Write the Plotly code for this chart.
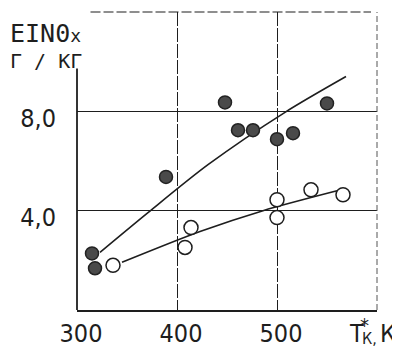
import plotly.graph_objects as go

# Data
filled_x = [315, 318, 389, 448, 461, 476, 500, 516, 550]
filled_y = [2.28, 1.68, 5.36, 8.36, 7.24, 7.24, 6.88, 7.12, 8.32]
open_x = [336, 408, 414, 500, 500, 534, 566]
open_y = [1.80, 2.52, 3.32, 4.44, 3.72, 4.84, 4.64]
fit_filled_x = [323, 371, 431, 508, 569]
fit_filled_y = [2.32, 3.92, 5.85, 7.96, 9.40]
fit_open_x = [345, 423, 486, 560]
fit_open_y = [1.92, 3.16, 4.00, 4.80]
x_ticks = [300, 400, 500]
x_ticktext = ["300", "400", "500"]
y_ticks = [4, 8]
y_ticktext = ["4,0", "8,0"]

FONT = "Liberation Sans Narrow, DejaVu Sans Condensed, Roboto, sans-serif"
MONO = "DejaVu Sans Mono, Liberation Mono, monospace"
INK = "#1e1e1e"

fig = go.Figure()
fig.add_trace(go.Scatter(x=fit_filled_x, y=fit_filled_y, mode="lines",
                         line=dict(color=INK, width=1.6, shape="spline", smoothing=0.8),
                         hoverinfo="skip", showlegend=False))
fig.add_trace(go.Scatter(x=fit_open_x, y=fit_open_y, mode="lines",
                         line=dict(color=INK, width=1.6, shape="spline", smoothing=0.8),
                         hoverinfo="skip", showlegend=False))
fig.add_trace(go.Scatter(x=filled_x, y=filled_y, mode="markers",
                         marker=dict(size=13, color="#4a4a4a", line=dict(color="#222", width=1.5)),
                         showlegend=False))
fig.add_trace(go.Scatter(x=open_x, y=open_y, mode="markers",
                         marker=dict(size=14, color="white", line=dict(color=INK, width=1.5)),
                         showlegend=False))

# the page adds an 8px body margin, so the figure is 8px smaller each way
fig.update_layout(
    width=392, height=340,
    margin=dict(l=69, r=23, t=4, b=38, autoexpand=False),
    paper_bgcolor="white", plot_bgcolor="white",
    font=dict(family=FONT, color=INK),
    xaxis=dict(range=[300, 600], tickvals=x_ticks, ticktext=x_ticktext,
               showgrid=True, gridcolor=INK, gridwidth=1, griddash="14px,2px",
               zeroline=False, showline=True, linecolor=INK, linewidth=1.8,
               ticks="", tickfont=dict(size=25, family=FONT, color=INK),
               ticklabelstandoff=0, ticklabelshift=4, automargin=False),
    yaxis=dict(range=[0, 12], tickvals=y_ticks, ticktext=y_ticktext,
               showgrid=True, gridcolor=INK, gridwidth=1.2,
               zeroline=False, showline=False,
               ticks="", tickfont=dict(size=25, family=FONT, color=INK),
               ticklabelstandoff=20, ticklabelshift=7, automargin=False),
)

# frame: left axis (open at the top), dashed top and right edges
fig.add_shape(type="line", xref="paper", yref="paper", x0=0, x1=0, y0=0, y1=0.81,
              line=dict(color=INK, width=1.8))
fig.add_shape(type="line", xref="paper", yref="paper", x0=0.045, x1=0.98, y0=1, y1=1,
              line=dict(color=INK, width=1.2, dash="10px,3px"))
fig.add_shape(type="line", xref="paper", yref="paper", x0=1, x1=1, y0=0, y1=1,
              line=dict(color="#555", width=1, dash="6px,3px"))

# y-axis title
fig.add_annotation(xref="paper", yref="paper", x=-0.23, y=1.0, xanchor="left", yanchor="bottom",
                   yshift=-38, showarrow=False,
                   text="EIN0<span style='font-size:18px'>x</span>",
                   font=dict(size=25, family=MONO, color=INK))
fig.add_annotation(xref="paper", yref="paper", x=-0.23, y=1.0, xanchor="left", yanchor="bottom",
                   yshift=-63, showarrow=False,
                   text="Г / КГ",
                   font=dict(size=20, family=MONO, color=INK))
# x-axis title: T, subscript К, asterisk, ",К"
fig.add_annotation(xref="paper", yref="paper", x=0.900, y=0, xanchor="left", yanchor="top",
                   yshift=-7, showarrow=False, text="T",
                   font=dict(size=25, family=FONT, color=INK))
fig.add_annotation(xref="paper", yref="paper", x=0.942, y=0, xanchor="left", yanchor="top",
                   yshift=-17, showarrow=False, text="К,",
                   font=dict(size=16, family=FONT, color=INK))
fig.add_annotation(xref="paper", yref="paper", x=0.936, y=0, xanchor="left", yanchor="top",
                   yshift=-1, showarrow=False, text="*",
                   font=dict(size=20, family=FONT, color=INK))
fig.add_annotation(xref="paper", yref="paper", x=1.003, y=0, xanchor="left", yanchor="top",
                   yshift=-7, showarrow=False, text="К",
                   font=dict(size=25, family=FONT, color=INK))

fig.write_html("out.html")
